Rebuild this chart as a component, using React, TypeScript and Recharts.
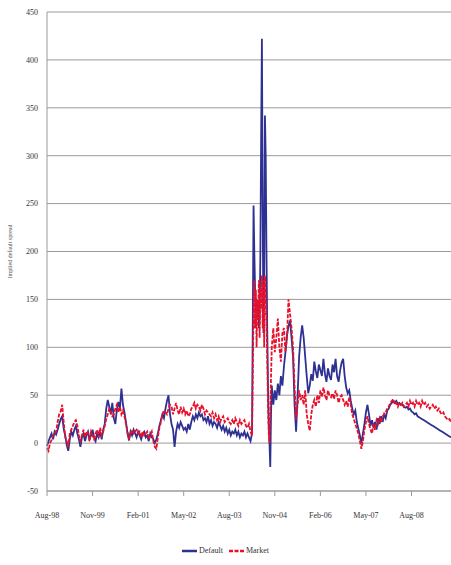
import React from "react";
import { LineChart, Line, XAxis, YAxis, CartesianGrid, Legend } from "recharts";

// months since the first tick (Aug-98)
const months: number[] = [
  0, 0.5, 1, 1.5, 2, 2.5, 3, 3.5, 4, 4.5, 5, 5.5, 6, 6.5, 7, 7.5, 8, 8.5, 9, 9.5,
  10, 10.5, 11, 11.5, 12, 12.5, 13, 13.5, 14, 14.5, 15, 15.5, 16, 16.5, 17, 17.5, 18, 18.5, 19, 19.5,
  20, 20.5, 21, 21.5, 22, 22.5, 23, 23.5, 24, 24.5, 25, 25.5, 26, 26.5, 27, 27.5, 28, 28.5, 29, 29.5,
  30, 30.5, 31, 31.5, 32, 32.5, 33, 33.5, 34, 34.5, 35, 35.5, 36, 36.5, 37, 37.5, 38, 38.5, 39, 39.5,
  40, 40.5, 41, 41.5, 42, 42.5, 43, 43.5, 44, 44.5, 45, 45.5, 46, 46.5, 47, 47.5, 48, 48.5, 49, 49.5,
  50, 50.5, 51, 51.5, 52, 52.5, 53, 53.5, 54, 54.5, 55, 55.5, 56, 56.5, 57, 57.5, 58, 58.5, 59, 59.5,
  60, 60.5, 61, 61.5, 62, 62.5, 63, 63.5, 64, 64.5, 65, 65.5, 66, 66.5, 67, 67.5,
  68, 68.25, 68.5, 68.75, 69, 69.25, 69.5, 69.75, 70, 70.25, 70.5, 70.75, 71, 71.25, 71.5, 71.75,
  72, 72.25, 72.5, 72.75, 73, 73.25, 73.5, 73.75, 74, 74.5, 75, 75.5, 76, 76.5, 77, 77.5, 78, 78.5, 79, 79.5,
  80, 80.5, 81, 81.5, 82, 82.5, 83, 83.5, 84, 84.5, 85, 85.5, 86, 86.5, 87, 87.5, 88, 88.5, 89, 89.5,
  90, 90.5, 91, 91.5, 92, 92.5, 93, 93.5, 94, 94.5, 95, 95.5, 96, 96.5, 97, 97.5, 98, 98.5, 99, 99.5,
  100, 100.5, 101, 101.5, 102, 102.5, 103, 103.5, 104, 104.5, 105, 105.5, 106, 106.5, 107, 107.5, 108, 108.5, 109, 109.5,
  110, 110.5, 111, 111.5, 112, 112.5, 113, 113.5, 114, 114.5, 115, 115.5, 116, 116.5, 117, 117.5, 118, 118.5, 119, 119.5,
  120, 120.5, 121, 121.5, 122, 122.5, 123, 123.5, 124, 124.5, 125, 125.5, 126, 126.5, 127, 127.5, 128, 128.5, 129, 129.5,
  130, 130.5, 131, 131.5, 132, 132.5, 133,
];

const defaultSeries: number[] = [
  -3, 2, 6, 10, 4, 12, 9, 14, 20, 25, 28, 15, 8, -2, -8, 4, 12, 8, 14, 18,
  10, 4, -4, 6, 10, 2, 8, 12, 4, 8, 14, 6, 2, 10, 6, 12, 4, 14, 20, 36,
  45, 38, 30, 42, 26, 20, 35, 43, 36, 57, 40, 32, 22, 10, 3, 12, 8, 14, 10, 6,
  12, 8, 4, 10, 12, 6, 8, 2, 10, 6, 4, 0, 4, 10, 18, 24, 30, 26, 36, 44,
  50, 30, 20, 14, -4, 12, 20, 16, 22, 18, 14, 16, 12, 20, 14, 22, 28, 24, 30, 26,
  32, 28, 30, 24, 26, 22, 28, 20, 24, 18, 22, 20, 16, 22, 18, 14, 18, 12, 16, 10,
  14, 8, 12, 10, 14, 8, 12, 6, 10, 8, 12, 6, 10, 6, 2, 10,
  248, 200, 160, 140, 150, 130, 145, 120, 130, 200, 320, 422, 250, 115, 180, 342,
  300, 200, 120, 60, 20, 0, -25, 30, 60, 40, 55, 45, 62, 50, 70, 60, 80, 95, 112, 122,
  128, 110, 90, 40, 12, 50, 90, 110, 123, 110, 90, 70, 52, 60, 72, 65, 85, 75, 68, 82,
  76, 70, 88, 72, 64, 78, 70, 66, 82, 74, 88, 70, 64, 76, 84, 88, 70, 58, 52, 55,
  44, 36, 30, 34, 22, 15, 8, 0, 10, 20, 32, 40, 30, 18, 24, 16, 22, 14, 26, 20,
  28, 22, 30, 26, 34, 36, 40, 42, 44, 42, 44, 41, 42, 40, 40, 38, 37, 38, 35, 36,
  33, 32, 30, 31, 28, 27, 26, 25, 24, 23, 22, 21, 20, 19, 18, 17, 16, 15, 14, 13,
  12, 11, 10, 9, 8, 7, 6,
];

const marketSeries: number[] = [
  -5, -8, 0, 3, 8, 10, 12, 22, 30, 33, 40, 22, 6, 2, -4, 10, 14, 18, 22, 24,
  18, 8, 2, 8, 14, 6, 12, 10, 2, 12, 8, 4, 10, 14, 6, 16, 8, 12, 18, 25,
  30, 36, 33, 28, 30, 36, 40, 32, 38, 30, 34, 28, 20, 12, 5, 10, 14, 10, 12, 14,
  10, 12, 6, 12, 8, 10, 12, 4, 8, 12, 2, -4, -6, 6, 16, 22, 30, 34, 32, 30,
  36, 40, 38, 30, 36, 42, 34, 30, 38, 32, 36, 30, 34, 28, 30, 36, 38, 42, 36, 40,
  38, 34, 40, 36, 30, 34, 32, 30, 28, 32, 26, 30, 24, 28, 22, 26, 28, 22, 24, 26,
  22, 20, 24, 20, 26, 22, 18, 24, 20, 22, 24, 18, 16, 20, 12, 8,
  140, 170, 120, 160, 100, 150, 130, 170, 110, 160, 140, 175, 120, 170, 100, 175,
  150, 130, 90, 40, 10, 0, 30, 70, 100, 120, 95, 110, 130, 100, 85, 115, 120, 95, 110, 150,
  135, 120, 100, 60, 25, 40, 55, 45, 50, 40, 55, 30, 20, 13, 30, 40, 45, 38, 50, 42,
  55, 48, 58, 50, 45, 55, 50, 48, 52, 46, 55, 50, 42, 48, 50, 45, 40, 44, 38, 48,
  40, 30, 25, 20, 15, 10, 2, -6, 2, 14, 22, 28, 20, 14, 10, 20, 14, 24, 20, 26,
  22, 28, 30, 32, 36, 38, 42, 44, 46, 40, 42, 38, 42, 40, 42, 38, 40, 42, 38, 44,
  40, 42, 38, 44, 40, 42, 38, 44, 40, 42, 38, 40, 36, 38, 40, 36, 38, 34, 36, 32,
  30, 32, 28, 26, 24, 25, 22,
];

const tickMonths: number[] = [0, 15, 30, 45, 60, 75, 90, 105, 120];
const tickLabels: string[] = [
  "Aug-98", "Nov-99", "Feb-01", "May-02", "Aug-03", "Nov-04", "Feb-06", "May-07", "Aug-08",
];
const yTicks: number[] = [-50, 0, 50, 100, 150, 200, 250, 300, 350, 400, 450];

const seriesNames = ["Default", "Market"];
const BLUE = "#2E3192";
const RED = "#E8102A";

const data = months.map((m, i) => ({
  m,
  def: defaultSeries[i],
  mkt: marketSeries[i],
}));

const FONT = "'Liberation Serif', 'Times New Roman', serif";

const LegendContent = () => (
  <div
    style={{
      display: "flex",
      justifyContent: "center",
      alignItems: "center",
      fontFamily: FONT,
      fontSize: 8,
      color: "#333",
      gap: 6,
    }}
  >
    <span style={{ display: "flex", alignItems: "center" }}>
      <svg width={15} height={6}>
        <line x1={0} y1={3} x2={15} y2={3} stroke={BLUE} strokeWidth={2.5} />
      </svg>
      <span style={{ marginLeft: 2 }}>{seriesNames[0]}</span>
    </span>
    <span style={{ display: "flex", alignItems: "center" }}>
      <svg width={15} height={6}>
        <line x1={0} y1={3} x2={15} y2={3} stroke={RED} strokeWidth={2.5} strokeDasharray="4 1.5" />
      </svg>
      <span style={{ marginLeft: 2 }}>{seriesNames[1]}</span>
    </span>
  </div>
);

export default function App() {
  return (
    <div
      style={{
        position: "absolute",
        left: 0,
        top: 0,
        width: 451,
        height: 565,
        overflow: "hidden",
        background: "#fff",
      }}
    >
      <LineChart
        width={451}
        height={565}
        data={data}
        margin={{ top: 12, right: 0, bottom: 44, left: 0 }}
      >
        <CartesianGrid vertical={false} stroke="#9a9a9a" strokeWidth={1} />
        <XAxis
          dataKey="m"
          type="number"
          domain={[0, 133]}
          ticks={tickMonths}
          tickFormatter={(v: number) => tickLabels[tickMonths.indexOf(v)] ?? ""}
          axisLine={{ stroke: "#9a9a9a" }}
          tickLine={{ stroke: "#9a9a9a" }}
          tickSize={5}
          tickMargin={16}
          height={30}
          tick={{ fontSize: 8, fill: "#333", fontFamily: FONT }}
          interval={0}
        />
        <YAxis
          type="number"
          domain={[-50, 450]}
          ticks={yTicks}
          width={47}
          axisLine={{ stroke: "#9a9a9a" }}
          tickLine={false}
          tickSize={0}
          tickMargin={9}
          tick={{ fontSize: 8, fill: "#333", fontFamily: FONT }}
          label={{
            value: "Implied default spread",
            angle: -90,
            position: "insideLeft",
            offset: 10,
            style: { fontSize: 6, fill: "#555", fontFamily: FONT, textAnchor: "middle" },
          }}
        />
        <Legend
          layout="horizontal"
          verticalAlign="middle"
          align="center"
          content={<LegendContent />}
          wrapperStyle={{ top: 546, left: 0, width: 451 }}
        />
        <Line
          type="linear"
          dataKey="def"
          name={seriesNames[0]}
          stroke={BLUE}
          strokeWidth={1.8}
          dot={false}
          isAnimationActive={false}
        />
        <Line
          type="linear"
          dataKey="mkt"
          name={seriesNames[1]}
          stroke={RED}
          strokeWidth={1.8}
          strokeDasharray="4 1.5"
          dot={false}
          isAnimationActive={false}
        />
      </LineChart>
    </div>
  );
}
